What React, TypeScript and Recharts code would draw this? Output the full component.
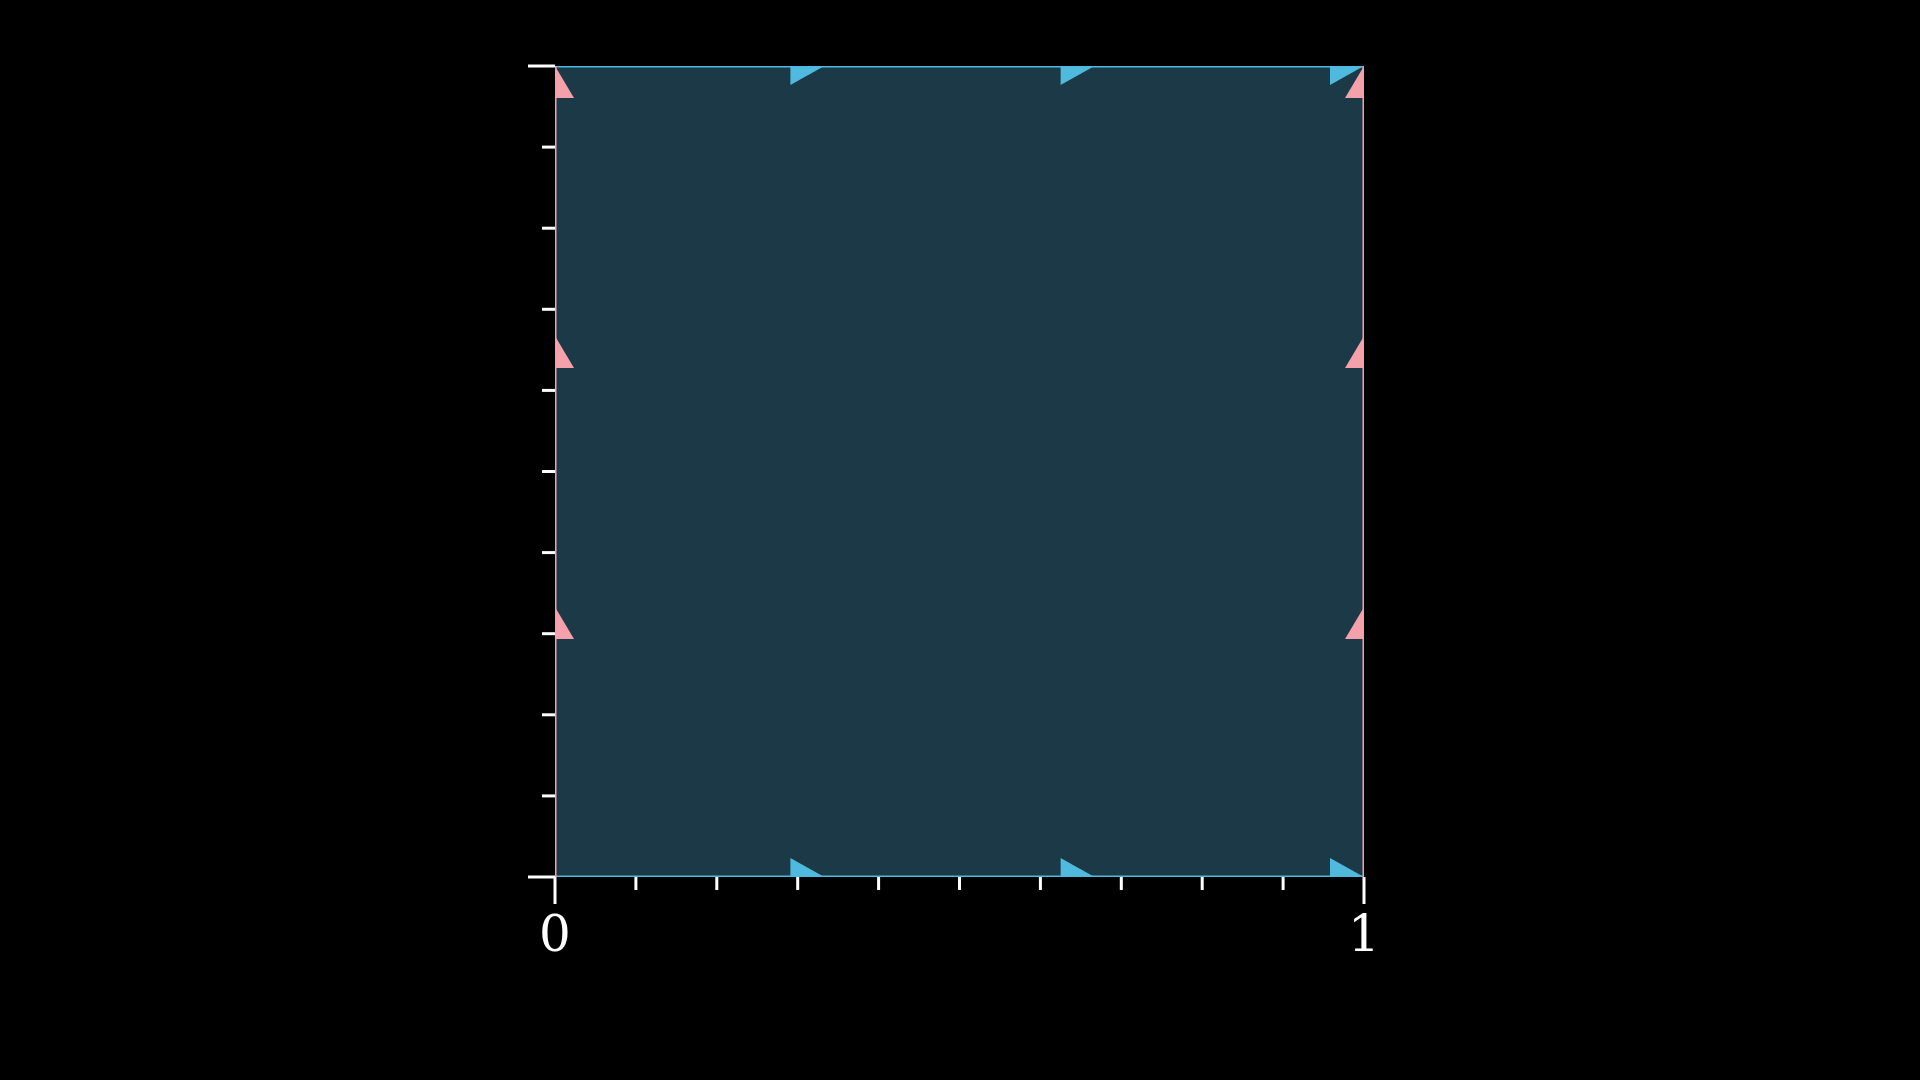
import { ComposedChart, XAxis, YAxis, Line, Scatter, ReferenceArea } from 'recharts'

const xTicks = [0, 0.1, 0.2, 0.3, 0.4, 0.5, 0.6, 0.7, 0.8, 0.9, 1]
const yTicks = [0, 0.1, 0.2, 0.3, 0.4, 0.5, 0.6, 0.7, 0.8, 0.9, 1]
const labelled = [0, 1]

const bottomEdge = [{ x: 0, y: 0 }, { x: 1, y: 0 }]
const topEdge = [{ x: 0, y: 1 }, { x: 1, y: 1 }]
const leftEdge = [{ x: 0, y: 0 }, { x: 0, y: 1 }]
const rightEdge = [{ x: 1, y: 0 }, { x: 1, y: 1 }]

const blueArrows = [
  { x: 0.333, y: 0 }, { x: 0.667, y: 0 }, { x: 1, y: 0 },
  { x: 0.333, y: 1 }, { x: 0.667, y: 1 }, { x: 1, y: 1 },
]
const pinkArrows = [
  { x: 0, y: 0.333 }, { x: 0, y: 0.667 }, { x: 0, y: 1 },
  { x: 1, y: 0.333 }, { x: 1, y: 0.667 }, { x: 1, y: 1 },
]

const BLUE = '#4fb9de'
const PINK = '#f4a1ab'

const XTick = (props: any) => {
  const { x, y, payload } = props
  const major = labelled.includes(payload.value)
  return (
    <g>
      <line x1={x} x2={x} y1={y} y2={y + (major ? 27 : 13)} stroke="#fff" strokeWidth={3} />
      {major && (
        <text x={x} y={y + 74} textAnchor="middle" fill="#fff" fontSize={50} fontFamily="DejaVu Serif, serif">
          {payload.value}
        </text>
      )}
    </g>
  )
}

const YTick = (props: any) => {
  const { x, y, payload } = props
  const major = labelled.includes(payload.value)
  return <line x1={x} x2={x - (major ? 27 : 13)} y1={y} y2={y} stroke="#fff" strokeWidth={3} />
}

const RightArrow = (props: any) => {
  const { cx, cy } = props
  return <polygon points={`${cx},${cy} ${cx - 34},${cy - 19} ${cx - 34},${cy + 19}`} fill={BLUE} />
}

const UpArrow = (props: any) => {
  const { cx, cy } = props
  return <polygon points={`${cx},${cy} ${cx - 19},${cy + 32} ${cx + 19},${cy + 32}`} fill={PINK} />
}

export default function App() {
  return (
    <div style={{ position: 'absolute', left: 0, top: 0, width: 1920, height: 1080, background: '#000' }}>
      <ComposedChart width={1920} height={1080} margin={{ top: 66, right: 556, bottom: 143, left: 495 }}>
        <XAxis type="number" dataKey="x" domain={[0, 1]} ticks={xTicks} tick={<XTick />} tickSize={0} tickMargin={0}
          axisLine={false} tickLine={false} height={60} interval={0} allowDataOverflow />
        <YAxis type="number" dataKey="y" domain={[0, 1]} ticks={yTicks} tick={<YTick />} tickSize={0} tickMargin={0}
          axisLine={false} tickLine={false} width={60} interval={0} allowDataOverflow />
        <ReferenceArea x1={0} x2={1} y1={0} y2={1} fill="#1b3946" fillOpacity={1} stroke="none" />
        <Line data={bottomEdge} dataKey="y" stroke={BLUE} strokeWidth={3} dot={false} isAnimationActive={false} />
        <Line data={topEdge} dataKey="y" stroke={BLUE} strokeWidth={3} dot={false} isAnimationActive={false} />
        <Line data={leftEdge} dataKey="y" stroke={PINK} strokeWidth={3} dot={false} isAnimationActive={false} />
        <Line data={rightEdge} dataKey="y" stroke={PINK} strokeWidth={3} dot={false} isAnimationActive={false} />
        <Scatter data={blueArrows} dataKey="y" shape={<RightArrow />} isAnimationActive={false} />
        <Scatter data={pinkArrows} dataKey="y" shape={<UpArrow />} isAnimationActive={false} />
      </ComposedChart>
    </div>
  )
}
